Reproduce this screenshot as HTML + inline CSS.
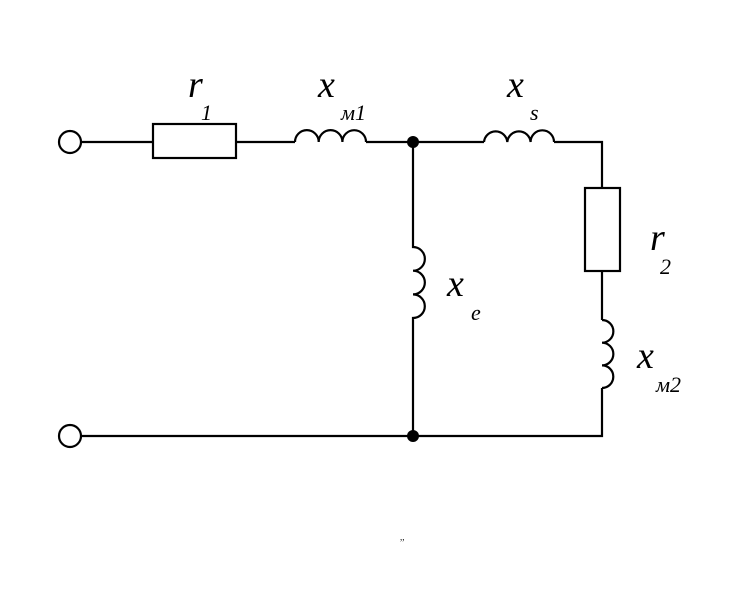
<!DOCTYPE html>
<html><head><style>body{margin:0;background:#fff}</style></head><body>
<svg width="756" height="602" viewBox="0 0 756 602" xmlns="http://www.w3.org/2000/svg">
<g fill="none" stroke="#000" stroke-width="2.2">
<circle cx="70" cy="142" r="11"/>
<circle cx="70" cy="436" r="11"/>
<path d="M81 142H153M236 142H295M366 142H484M554 142H602V188M602 271V320M602 388V436H81"/>
<rect x="153" y="124" width="83" height="34"/>
<rect x="585" y="188" width="35" height="83"/>
<path d="M295 142a11.8 11.8 0 0 1 23.7 0a11.8 11.8 0 0 1 23.7 0a11.8 11.8 0 0 1 23.6 0"/>
<path d="M484 142a11.7 11.7 0 0 1 23.3 0a11.7 11.7 0 0 1 23.3 0a11.7 11.7 0 0 1 23.4 0"/>
<path d="M413 142V247a11.8 11.8 0 0 1 0 23.7a11.8 11.8 0 0 1 0 23.7a11.8 11.8 0 0 1 0 23.6V436"/>
<path d="M602 320a11.3 11.3 0 0 1 0 22.7a11.3 11.3 0 0 1 0 22.7a11.3 11.3 0 0 1 0 22.6"/>
</g>
<circle cx="413" cy="142" r="6"/>
<circle cx="413" cy="436" r="6"/>
<g font-family="'Liberation Serif', serif" font-style="italic" fill="#000">
<text x="188" y="97" font-size="38">r</text><text x="201" y="120" font-size="22">1</text>
<text x="318" y="97" font-size="38">x</text><text x="341" y="120" font-size="22">м1</text>
<text x="507" y="97" font-size="38">x</text><text x="530" y="120" font-size="22">s</text>
<text x="650" y="250" font-size="38">r</text><text x="660" y="274" font-size="22">2</text>
<text x="447" y="296" font-size="38">x</text><text x="471" y="320" font-size="22">e</text>
<text x="637" y="368" font-size="38">x</text><text x="656" y="392" font-size="22">м2</text>
<text x="400" y="540" font-size="9">,,</text>
</g>
</svg>
</body></html>
